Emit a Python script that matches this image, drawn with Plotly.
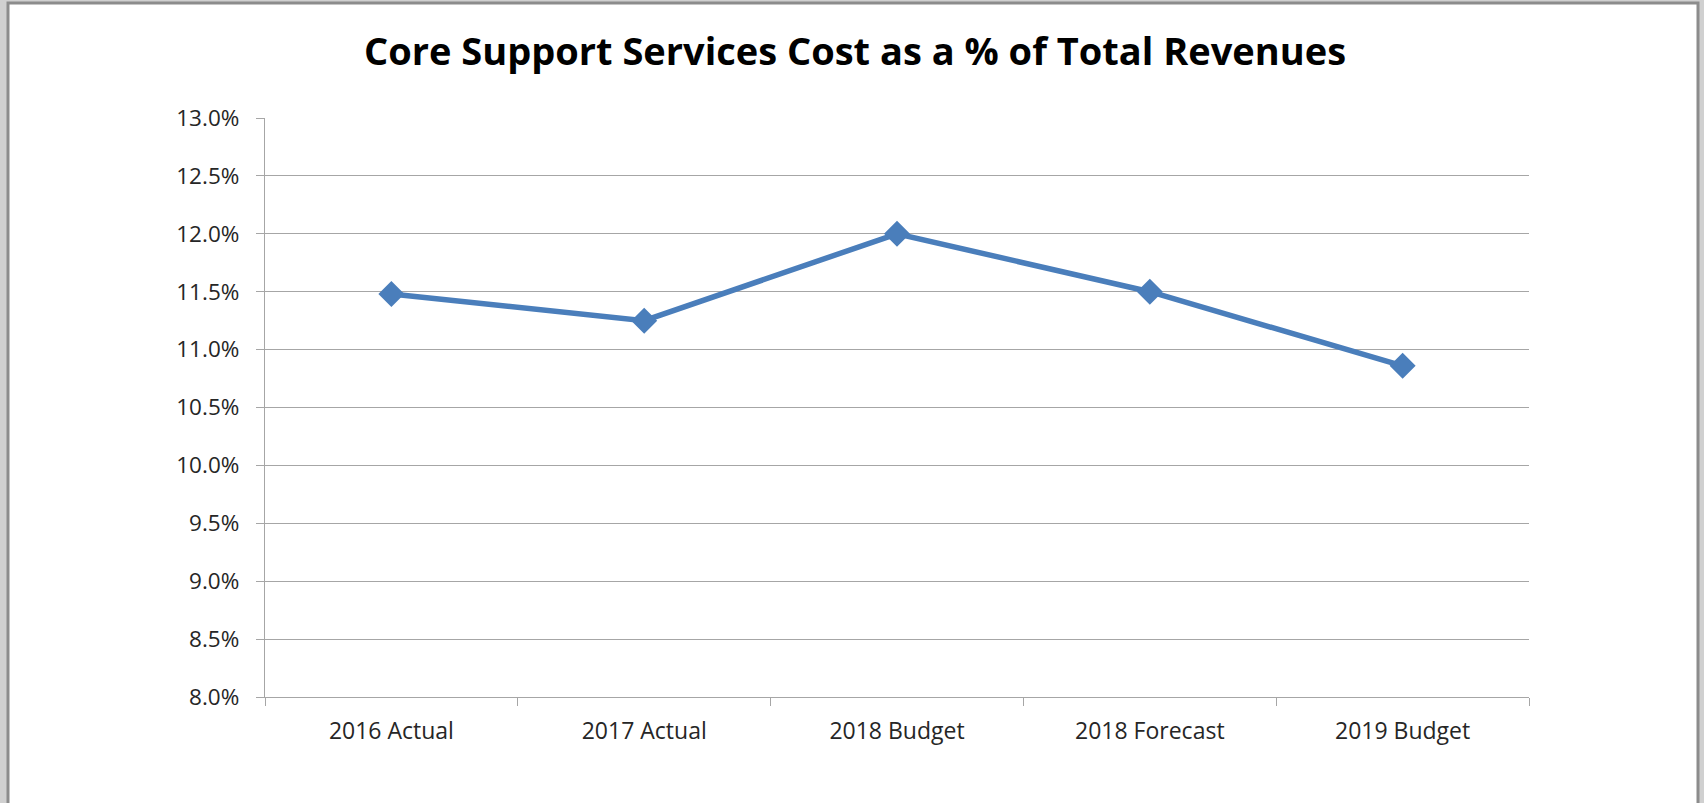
import plotly.graph_objects as go

categories = ["2016 Actual", "2017 Actual", "2018 Budget", "2018 Forecast", "2019 Budget"]
cost_pct = [0.1148, 0.1125, 0.1200, 0.1150, 0.1086]
title_text = "Core Support Services Cost as a % of Total Revenues"

W, H = 1704, 803
L, R, T, B = 265, 1529, 118, 697  # plot area in pixels

def px(x):
    return (x - L) / (R - L)

def py(y):
    return (B - y) / (B - T)

fig = go.Figure()
fig.add_trace(go.Scatter(
    x=categories, y=cost_pct, mode="lines+markers",
    line=dict(color="#4A7EBB", width=5.5),
    marker=dict(symbol="diamond", size=20, color="#4A7EBB"),
    showlegend=False, hoverinfo="x+y",
))

grid = "#A6A6A6"
fig.update_layout(
    width=W, height=H,
    margin=dict(l=L, r=W - R, t=T, b=H - B, pad=0),
    paper_bgcolor="#D0D0D0",
    plot_bgcolor="rgba(0,0,0,0)",
    title=dict(text=title_text, x=855 / W, xref="container", xanchor="center",
               y=1 - 52 / H, yref="container", yanchor="middle",
               font=dict(family="Open Sans", size=38, color="#000000", weight="bold")),
    font=dict(family="Open Sans", size=22, color="#262626"),
    xaxis=dict(type="category", range=[-0.5, 4.5], showgrid=False,
               showline=True, linecolor=grid, linewidth=1.3,
               ticks="outside", tickson="boundaries", ticklen=8, tickcolor=grid,
               tickfont=dict(size=23, color="#262626"), ticklabelstandoff=13,
               fixedrange=True),
    yaxis=dict(range=[0.08, 0.13], dtick=0.005, tick0=0.08, tickformat=".1%",
               showgrid=True, gridcolor=grid, gridwidth=1.3,
               showline=True, linecolor=grid, linewidth=1.3,
               ticks="outside", ticklen=8, tickcolor=grid,
               tickfont=dict(size=22.5, color="#262626"), ticklabelstandoff=12,
               zeroline=False, fixedrange=True),
    shapes=[
        dict(type="rect", xref="paper", yref="paper", layer="below",
             x0=px(8), x1=px(1698), y0=py(H + 20), y1=py(3),
             fillcolor="#FFFFFF", line=dict(color="#8C8C8C", width=3)),
    ],
)

fig.write_html("out.html")
